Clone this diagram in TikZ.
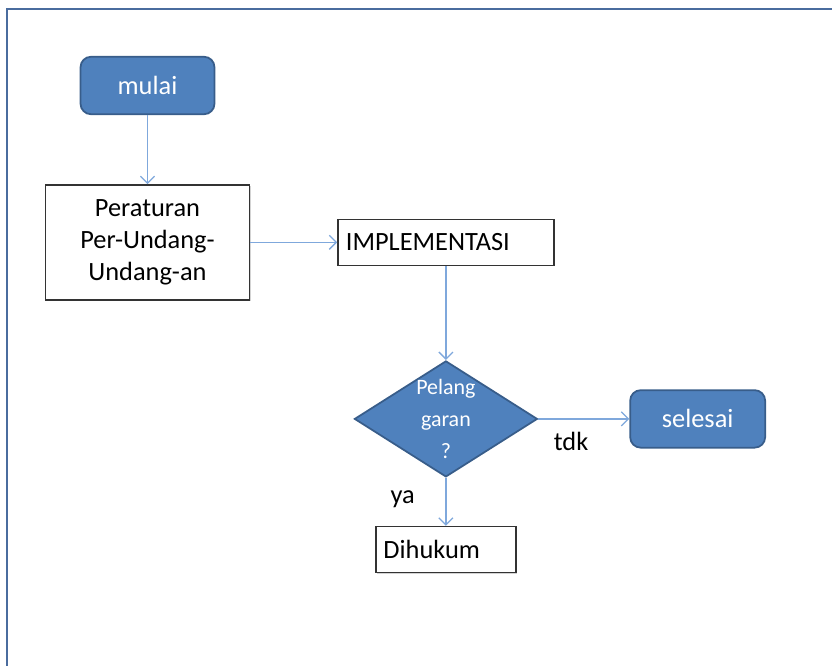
\documentclass[tikz,border=0pt]{standalone}
\usepackage{fontspec}
\setmainfont{Carlito}
\usepackage{xcolor}
\usepackage{tikz}
\usetikzlibrary{arrows,arrows.meta,shapes.geometric,shadows}
\usetikzlibrary{positioning}
\definecolor{flowblue}{HTML}{4F81BD}
\definecolor{flowedge}{HTML}{385D8A}
\definecolor{arrowblue}{HTML}{7FA8DC}
\definecolor{frameblue}{HTML}{4A6C9E}

\begin{document}
\begin{tikzpicture}[font=\fontsize{15}{18}\selectfont, semithick]
  \tikzstyle{terminal}=[rectangle, rounded corners=6pt, fill=flowblue, draw=flowedge, line width=1pt, text=white, inner sep=0pt, minimum width=2.68cm, minimum height=1.15cm]
  \tikzstyle{process}=[rectangle, draw=black!80, fill=white, line width=0.8pt, inner sep=0pt, minimum height=0.92cm, drop shadow={shadow xshift=0.6pt, shadow yshift=-0.6pt, opacity=0.35}]
  \tikzstyle{decision}=[diamond, fill=flowblue, draw=flowedge, line width=1pt, inner sep=0pt, minimum width=3.66cm, minimum height=2.32cm]
  \tikzstyle{flow}=[draw=arrowblue, line width=0.75pt, -{Straight Barb[length=4pt, width=8pt]}]

  % frame
  \useasboundingbox (0,0) rectangle (16.64,-13.32);
  \draw[frameblue, line width=1.6pt] (0.14,-13.4) |- (16.7,-0.18);

  \node[terminal] (mulai) at (2.95,-1.71) {mulai};
  \node[process, minimum width=4.08cm, minimum height=2.3cm, align=center] (perat) [below=1.38cm of mulai] {Peraturan\\Per-Undang-\\Undang-an};
  \node[process, minimum width=4.32cm, text width=4.0cm, align=left, inner xsep=0.16cm] (impl) [right=1.74cm of perat] {IMPLEMENTASI};
  \node[decision, label={[text=white, align=center, font=\fontsize{12.5}{18}\selectfont]center:Pelang\\garan\\?}] (cek) [below=1.88cm of impl] {};
  \node[terminal, minimum width=2.7cm] (selesai) [right=1.82cm of cek] {selesai};
  \node[process, minimum width=2.8cm, text width=2.5cm, align=left, inner xsep=0.15cm] (hukum) [below=0.96cm of cek] {Dihukum};

  \path[flow]
    (mulai) edge (perat)
    (perat) edge (impl)
    (impl) edge (cek)
    (cek) edge node[below=4pt, pos=0.36, text=black] {tdk} (selesai)
    (cek) edge node[left=14pt, pos=0.45, text=black] {ya} (hukum);

\end{tikzpicture}
\end{document}
